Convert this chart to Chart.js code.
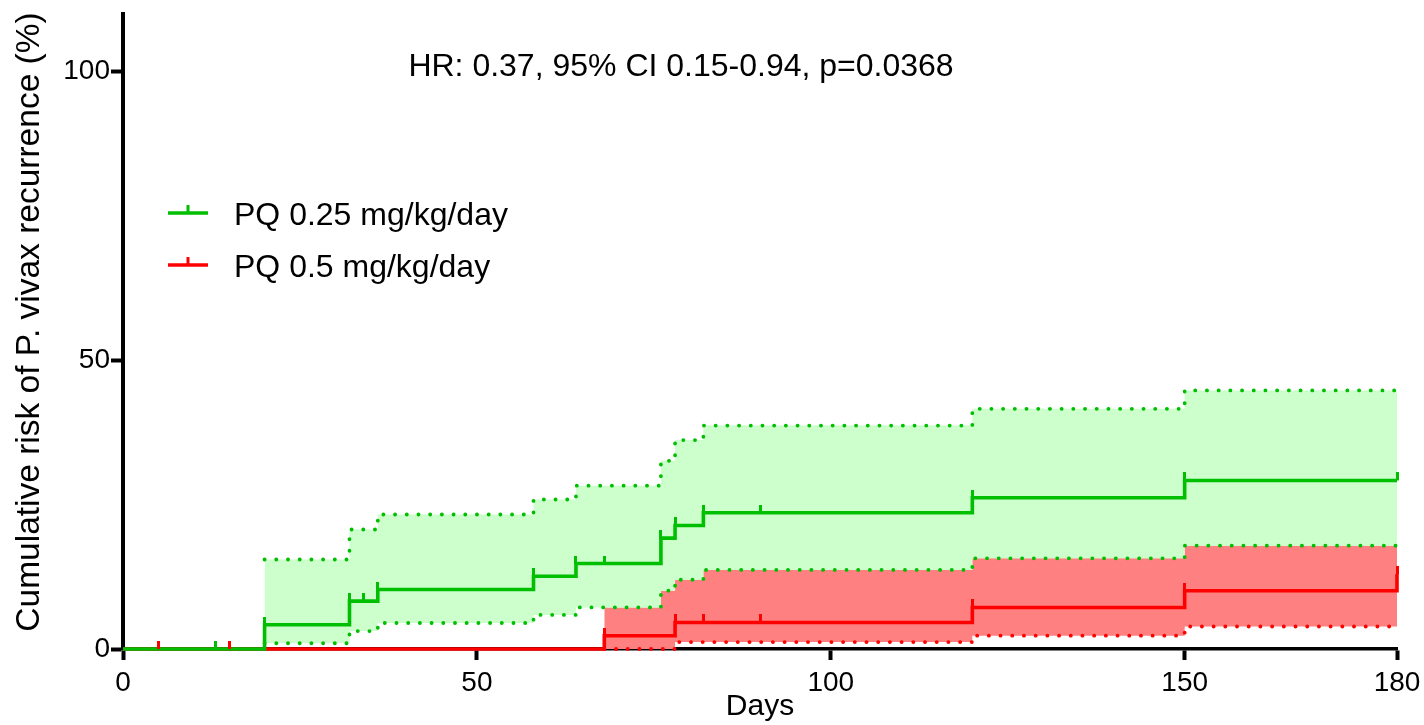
<!DOCTYPE html>
<html><head><meta charset="utf-8">
<script src="https://cdn.jsdelivr.net/npm/chart.js@4.4.1/dist/chart.umd.min.js"></script>
<style>html,body{margin:0;padding:0;background:#fff;overflow:hidden}#wrap{width:1424px;height:725px;position:relative}</style>
</head><body><div id="wrap"><canvas id="c" width="1424" height="725"></canvas></div>
<script>
// ---- data ----
const greenDays = [0, 20, 32, 36, 58, 64, 76, 78, 82, 120, 150, 180];
const greenRisk = [0, 4.2, 8.3, 10.3, 12.6, 14.8, 19.2, 21.4, 23.6, 26.2, 29.2, 29.2];
const redDays = [0, 68, 78, 120, 150, 180];
const redRisk = [0, 2.3, 4.6, 7.2, 10.1, 13.0];
const greenCIDays = [20, 32, 36, 58, 64, 76, 78, 82, 120, 150, 180];
const greenCIUpper = [15.5, 20.7, 23.3, 25.9, 28.3, 32.6, 36.2, 38.7, 41.6, 44.8, 44.8];
const greenCILower = [1.0, 3.1, 4.5, 5.9, 7.2, 10.1, 12.0, 13.7, 15.7, 17.9, 17.9];
const redCIDays = [68, 76, 78, 82, 120, 150, 180];
const redCIUpper = [7.2, 10.1, 12.0, 13.7, 15.7, 17.9, 17.9];
const redCILower = [0, 0, 1.2, 1.2, 2.3, 3.9, 3.9];
const greenCensored = [13, 20, 32, 34, 36, 58, 64, 68, 76, 78, 82, 90, 120, 150, 180];
const redCensored = [5, 15, 68, 78, 82, 90, 120, 150, 180];
const xTicks = [0, 50, 100, 150, 180];
const yTicks = [0, 50, 100];
const seriesNames = ['PQ 0.25 mg/kg/day', 'PQ 0.5 mg/kg/day'];
const annotationText = 'HR: 0.37, 95% CI 0.15-0.94, p=0.0368';
const xTitle = 'Days';
const yTitle = 'Cumulative risk of P. vivax recurrence (%)';

// ---- styles ----
const GREEN = 'rgb(0,190,0)';
const RED = 'rgb(255,0,0)';
const GREEN_FILL = 'rgb(204,255,204)';
const RED_FILL = 'rgb(255,128,128)';
const FONT = "Arial, 'Liberation Sans', Helvetica, sans-serif";

const pts = (xs, ys) => xs.map((x, i) => ({x: x, y: ys[i]}));
function stepValue(days, vals, t) {
  let v = vals[0];
  for (let i = 0; i < days.length; i++) if (days[i] <= t) v = vals[i];
  return v;
}
function tickImg(color) {
  const c = document.createElement('canvas');
  c.width = 3; c.height = 16;
  const g = c.getContext('2d');
  g.fillStyle = color; g.fillRect(0, 0, 3, 8);
  return c;
}
const greenTick = tickImg(GREEN), redTick = tickImg(RED);

const dotted = {borderWidth: 3.8, borderDash: [0.1, 11.6], borderCapStyle: 'round', pointRadius: 0, stepped: 'before', clip: false};

const overlay = {
  id: 'overlay',
  afterDraw(chart) {
    const {ctx, chartArea: a} = chart;
    ctx.save();
    ctx.fillStyle = '#000';
    ctx.font = '32px ' + FONT;
    ctx.textBaseline = 'alphabetic';
    ctx.textAlign = 'center';
    ctx.fillText(annotationText, a.left + 558, a.top + 62);
    const rows = [[seriesNames[0], GREEN, 199], [seriesNames[1], RED, 251]];
    ctx.textAlign = 'left';
    rows.forEach(([name, col, dy]) => {
      const y = a.top + dy;
      ctx.strokeStyle = col; ctx.lineWidth = 3.5; ctx.lineCap = 'butt';
      ctx.beginPath(); ctx.moveTo(a.left + 45, y); ctx.lineTo(a.left + 85, y); ctx.stroke();
      ctx.lineWidth = 3;
      ctx.beginPath(); ctx.moveTo(a.left + 65, y); ctx.lineTo(a.left + 65, y - 8); ctx.stroke();
      ctx.fillStyle = '#000';
      ctx.fillText(name, a.left + 111, y + 12);
    });
    // y-axis title
    ctx.translate(a.left - 93, a.top + 308);
    ctx.rotate(-Math.PI / 2);
    ctx.font = '33.5px ' + FONT;
    ctx.textAlign = 'center';
    ctx.textBaseline = 'middle';
    ctx.fillText(yTitle, 0, 0);
    ctx.restore();
  }
};

new Chart(document.getElementById('c'), {
  type: 'line',
  data: {
    datasets: [
      {label: 'g-cens', data: greenCensored.map(t => ({x: t, y: stepValue(greenDays, greenRisk, t)})),
       showLine: false, pointStyle: greenTick, pointRadius: 5, borderColor: GREEN, backgroundColor: GREEN, clip: false},
      {label: 'r-cens', data: redCensored.map(t => ({x: t, y: stepValue(redDays, redRisk, t)})),
       showLine: false, pointStyle: redTick, pointRadius: 5, borderColor: RED, backgroundColor: RED, clip: false},
      {label: seriesNames[0], data: pts(greenDays, greenRisk), borderColor: GREEN, borderWidth: 3.6, pointRadius: 0, stepped: 'before', fill: false, clip: false},
      {label: seriesNames[1], data: pts(redDays, redRisk), borderColor: RED, borderWidth: 3.6, pointRadius: 0, stepped: 'before', fill: false, clip: false},
      Object.assign({label: 'g-up', data: pts(greenCIDays, greenCIUpper), borderColor: GREEN, fill: {target: 5}, backgroundColor: GREEN_FILL}, dotted),
      Object.assign({label: 'g-lo', data: pts(greenCIDays, greenCILower), borderColor: GREEN, fill: false}, dotted),
      {label: 'r-up', data: pts(redCIDays, redCIUpper), borderWidth: 0, borderColor: 'rgba(0,0,0,0)', pointRadius: 0, stepped: 'before', fill: {target: 7}, backgroundColor: RED_FILL},
      Object.assign({label: 'r-lo', data: pts(redCIDays, redCILower), borderColor: RED, fill: false}, dotted)
    ]
  },
  options: {
    responsive: false,
    animation: false,
    devicePixelRatio: 1,
    events: [],
    layout: {padding: {top: 14, right: 27, left: 0, bottom: 0}},
    plugins: {
      legend: {display: false},
      tooltip: {enabled: false},
      filler: {drawTime: 'beforeDatasetsDraw'}
    },
    scales: {
      x: {
        type: 'linear', min: 0, max: 180,
        afterBuildTicks: s => { s.ticks = xTicks.map(v => ({value: v})); },
        afterFit: s => { s.height = 76; s.paddingLeft = 0; s.paddingRight = 0; },
        grid: {display: true, drawOnChartArea: false, drawTicks: true, tickLength: 11, tickWidth: 4, tickColor: '#000'},
        border: {display: true, color: '#000', width: 3.5},
        ticks: {color: '#000', font: {family: FONT, size: 28}, padding: 6, maxRotation: 0, autoSkip: false},
        title: {display: true, text: xTitle, color: '#000', font: {family: FONT, size: 30}, padding: {top: 0, bottom: 0}}
      },
      y: {
        type: 'linear', min: 0, max: 110,
        afterBuildTicks: s => { s.ticks = yTicks.map(v => ({value: v})); },
        afterFit: s => { s.width = 123; s.paddingTop = 0; s.paddingBottom = 0; },
        grid: {display: true, drawOnChartArea: false, drawTicks: true, tickLength: 12, tickWidth: 4, tickColor: '#000'},
        border: {display: true, color: '#000', width: 4},
        ticks: {color: '#000', font: {family: FONT, size: 28}, padding: 1},
        title: {display: false}
      }
    }
  },
  plugins: [overlay]
});
</script></body></html>
